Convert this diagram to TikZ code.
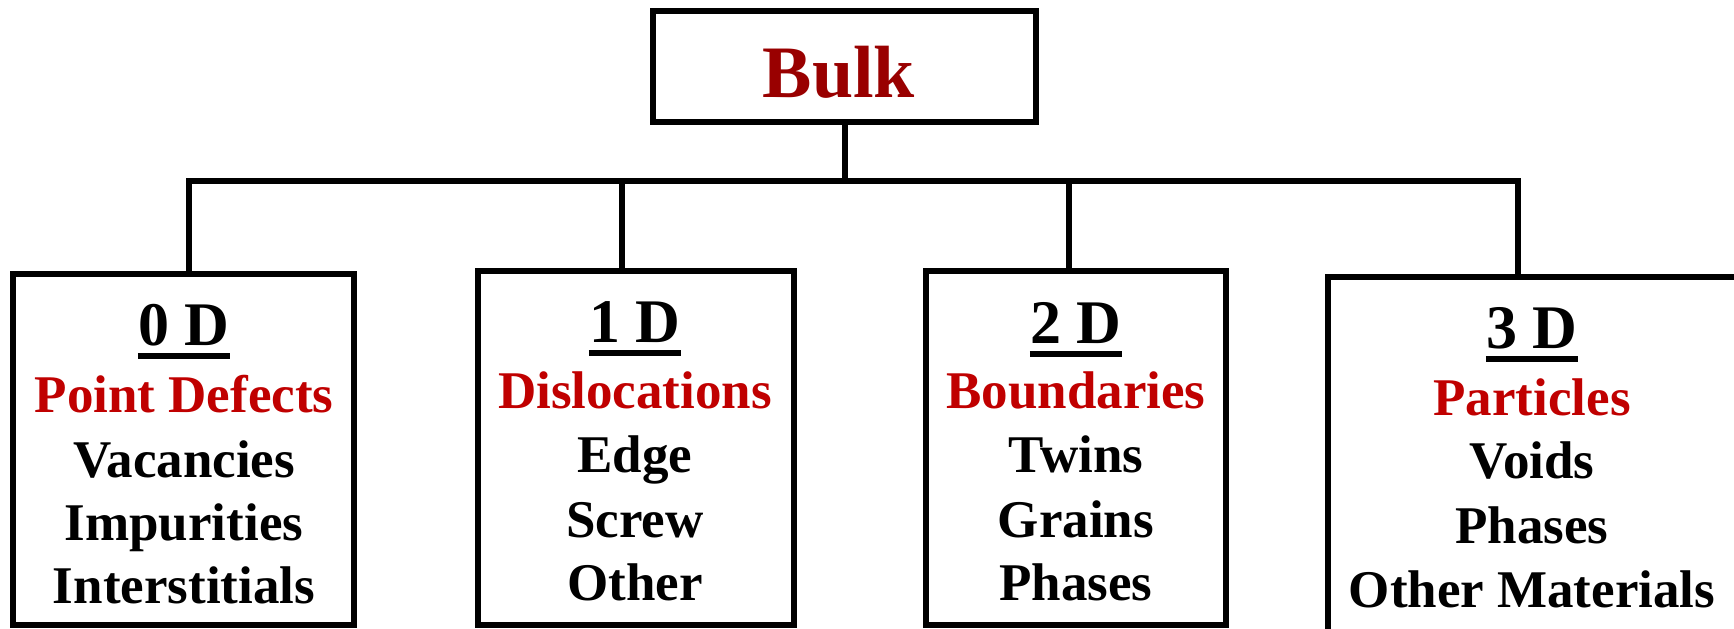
\documentclass[tikz,border=0pt]{standalone}
\usepackage{fontspec}
\setmainfont{Liberation Serif}
\definecolor{bulkred}{HTML}{990000}
\definecolor{catred}{HTML}{C00000}
\begin{document}
\begin{tikzpicture}[x=0.5pt,y=-0.5pt,
  box/.style={draw, line width=3pt, inner sep=0, fill=white},
  conn/.style={line width=3pt},
  txt/.style={inner sep=0, anchor=base, font=\bfseries\fontsize{26.5}{30}\selectfont},
  head/.style={inner sep=0, anchor=base, font=\bfseries\fontsize{31}{36}\selectfont},
  cat/.style={txt, text=catred},
  uline/.style={line width=2.7pt}]
\useasboundingbox (0,0) rectangle (1734,628);
\clip (0,0) rectangle (1734,628);
% boxes
\node[box, minimum width=191.5pt, minimum height=55.5pt] (top) at (844.5,66.5) {};
\node[box, minimum width=170.5pt, minimum height=175.5pt] (b0) at (183.5,449.5) {};
\node[box, minimum width=158pt, minimum height=177pt] (b1) at (636,448) {};
\node[box, minimum width=150pt, minimum height=177pt] (b2) at (1076,448) {};
\node[box, minimum width=207pt, minimum height=179pt] (b3) at (1535,456) {};
% connectors
\coordinate (bus) at (0,181);
\coordinate (s0) at (189,274);
\coordinate (s1) at (622,271);
\coordinate (s2) at (1069,271);
\coordinate (s3) at (1518,277);
\draw[conn] (top.south) -- (top.south |- bus);
\draw[conn] (s0) -- (s0 |- bus) -- (s3 |- bus) -- (s3);
\draw[conn] (s1) -- (s1 |- bus);
\draw[conn] (s2) -- (s2 |- bus);
% top label
\node[inner sep=0, anchor=base, font=\bfseries\fontsize{37}{42}\selectfont, text=bulkred] (bulk) at (839,97) {Bulk};
% 0 D
\node[head] (h0) at (184,345) {0 D};
\draw[uline] ([yshift=-5.5pt]h0.base west) -- ([yshift=-5.5pt]h0.base east);
\node[cat] (c0) at (184,412) {Point Defects};
\node[txt] (a0) at (184,477) {Vacancies};
\node[txt] (a1) at (184,540) {Impurities};
\node[txt] (a2) at (184,603) {Interstitials};
% 1 D
\node[head] (h1) at (635,342) {1 D};
\draw[uline] ([yshift=-5.5pt]h1.base west) -- ([yshift=-5.5pt]h1.base east);
\node[cat] (c1) at (635,408) {Dislocations};
\node[txt] (d0) at (635,472) {Edge};
\node[txt] (d1) at (635,537) {Screw};
\node[txt] (d2) at (635,600) {Other};
% 2 D
\node[head] (h2) at (1076,343) {2 D};
\draw[uline] ([yshift=-5.5pt]h2.base west) -- ([yshift=-5.5pt]h2.base east);
\node[cat] (c2) at (1076,408) {Boundaries};
\node[txt] (e0) at (1076,472) {Twins};
\node[txt] (e1) at (1076,537) {Grains};
\node[txt] (e2) at (1076,600) {Phases};
% 3 D
\node[head] (h3) at (1532,348) {3 D};
\draw[uline] ([yshift=-5.5pt]h3.base west) -- ([yshift=-5.5pt]h3.base east);
\node[cat] (c3) at (1532,415) {Particles};
\node[txt] (f0) at (1532,478) {Voids};
\node[txt] (f1) at (1532,543) {Phases};
\node[txt] (f2) at (1532,607) {Other Materials};
\end{tikzpicture}
\end{document}
